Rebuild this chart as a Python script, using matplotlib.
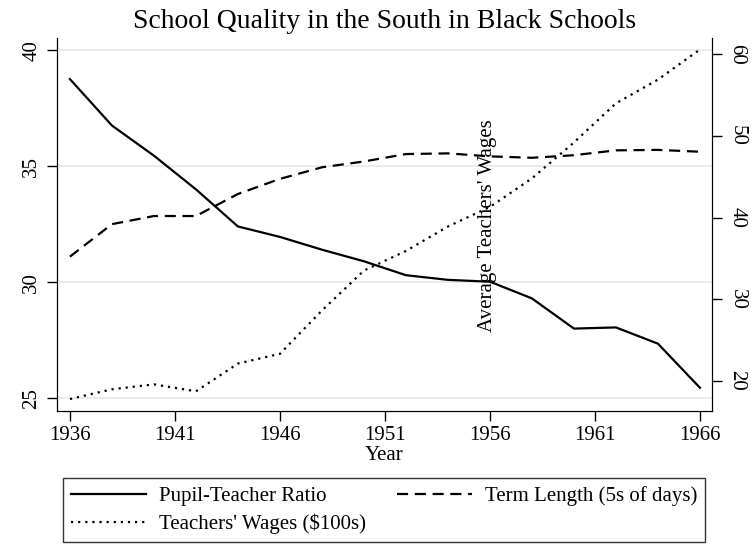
import numpy as np
import matplotlib.pyplot as plt

plt.rcParams['font.family'] = ['Liberation Serif', 'DejaVu Serif']

years = [1936, 1938, 1940, 1942, 1944, 1946, 1948, 1950,
         1952, 1954, 1956, 1958, 1960, 1962, 1964, 1966]
pupil_teacher = [38.75, 36.75, 35.45, 34.0, 32.4, 31.95, 31.4, 30.9,
                 30.3, 30.1, 30.02, 29.3, 28.0, 28.05, 27.35, 25.45]
term_length = [31.1, 32.5, 32.85, 32.85, 33.8, 34.45, 34.95, 35.2,
               35.52, 35.55, 35.42, 35.36, 35.47, 35.68, 35.7, 35.62]
wages = [17.75, 18.95, 19.55, 18.7, 22.1, 23.3, 28.6, 33.5,
         35.9, 38.9, 41.3, 44.8, 49.2, 54.0, 56.9, 60.6]
xticks = [1936, 1941, 1946, 1951, 1956, 1961, 1966]

fig = plt.figure(figsize=(7.53, 5.55), dpi=100)
ax = fig.add_axes([0.0753, 0.2595, 0.8707, 0.672])
ax2 = ax.twinx()

l1, = ax.plot(years, pupil_teacher, color='black', lw=1.6, ls='-')
l2, = ax.plot(years, term_length, color='black', lw=1.6, ls=(0, (5, 3)))
l3, = ax2.plot(years, wages, color='black', lw=1.6, ls=(0, (1, 2.2)))

ax.set_xlim(1935.37, 1966.59)
ax.set_ylim(24.45, 40.52)
ax2.set_ylim(16.29, 62.0)

ax.set_yticks([25, 30, 35, 40])
ax2.set_yticks([20, 30, 40, 50, 60])
ax.set_xticks(xticks)
ax.grid(axis='y', color='#e8e8e8', lw=1.2)
ax.set_axisbelow(True)

for a in (ax, ax2):
    a.spines['top'].set_visible(False)
    a.tick_params(length=7, width=1, labelsize=15, colors='black')
ax.tick_params(axis='y', labelrotation=90, pad=4)
ax2.tick_params(axis='y', labelrotation=-90, pad=4)
for lab in ax.get_yticklabels():
    lab.set_va('center')
for lab in ax2.get_yticklabels():
    lab.set_va('center')

ax.set_xlabel('Year', fontsize=15, labelpad=1)
ax.set_title('School Quality in the South in Black Schools', fontsize=20, pad=7)

# right axis title sits inside the plot area
ax.text(0.657, 0.497, "Average Teachers' Wages", transform=ax.transAxes,
        rotation=90, ha='center', va='center', fontsize=15)

fig.legend([l1, l3, l2],
           ['Pupil-Teacher Ratio', "Teachers' Wages ($100s)", 'Term Length (5s of days)'],
           loc='upper left', bbox_to_anchor=(63 / 753, 1 - 478 / 555),
           ncol=2, fontsize=15, frameon=True, fancybox=False,
           edgecolor='black', handlelength=3.6, handletextpad=0.6,
           borderaxespad=0, borderpad=0.4, labelspacing=0.35,
           columnspacing=1.5)

fig.savefig('out.png', dpi=100)
